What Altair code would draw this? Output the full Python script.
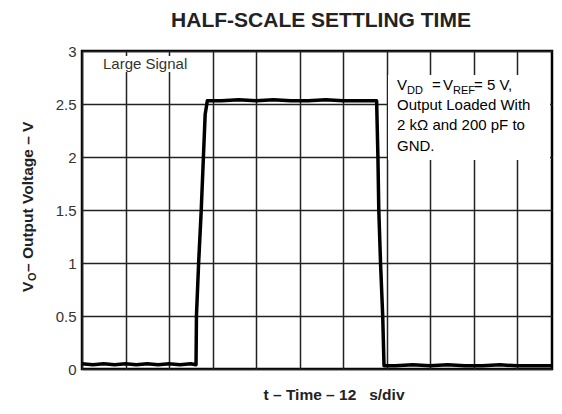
import altair as alt
import pandas as pd

# ---- data (time in divisions, voltage in V) ----
time_div = [0.00, 0.25, 0.50, 0.75, 1.00, 1.25, 1.50, 1.75, 2.00, 2.25, 2.50, 2.62,
            2.63, 2.68, 2.74, 2.79, 2.83, 2.88,
            3.20, 3.60, 4.00, 4.40, 4.80, 5.20, 5.60, 6.00, 6.40, 6.77,
            6.80, 6.82, 6.86, 6.91, 6.94,
            7.20, 7.60, 8.00, 8.40, 8.80, 9.20, 9.60, 10.00, 10.40, 10.80]
volts = [0.05, 0.04, 0.05, 0.04, 0.05, 0.04, 0.05, 0.04, 0.05, 0.04, 0.05, 0.04,
         0.50, 1.00, 1.50, 2.00, 2.40, 2.53,
         2.53, 2.54, 2.53, 2.54, 2.53, 2.53, 2.54, 2.53, 2.53, 2.53,
         2.00, 1.50, 1.00, 0.50, 0.03,
         0.03, 0.04, 0.03, 0.04, 0.03, 0.03, 0.04, 0.03, 0.03, 0.03]
x_grid = [0, 1, 2, 3, 4, 5, 6, 7, 8, 9, 10]
y_ticks = [0, 0.5, 1, 1.5, 2, 2.5, 3]

title_text = "HALF-SCALE SETTLING TIME"
x_title = "t \u2013 Time \u2013 12\u00a0\u00a0 s/div"
note_lines = ["Output Loaded With", "2 k\u03a9 and 200 pF to", "GND."]

df = pd.DataFrame({"t": time_div, "v": volts, "i": list(range(len(time_div)))})

FONT = "Liberation Sans"
W, H = 470, 318

x_enc = alt.X("t:Q", scale=alt.Scale(domain=[0, 10.8], nice=False, zero=False),
              axis=alt.Axis(values=x_grid, labels=False, ticks=False, domain=False,
                            grid=True, gridColor="#222", gridWidth=1.5, title=None))
y_enc = alt.Y("v:Q", scale=alt.Scale(domain=[0, 3], nice=False),
              axis=alt.Axis(values=y_ticks, format="~g", labelFontSize=15,
                            labelColor="#333", labelFont=FONT, ticks=False,
                            domain=False, labelPadding=6, grid=True,
                            gridColor="#222", gridWidth=1.5, title=None))

line = alt.Chart(df).mark_line(color="black", strokeWidth=3.5, strokeJoin="round").encode(
    x=x_enc, y=y_enc, order=alt.Order("i:Q"))

one = pd.DataFrame({"a": [0]})

def box(x1, x2, y1, y2):
    return alt.Chart(one).mark_rect(color="white").encode(
        x=alt.value(x1), x2=alt.value(x2), y=alt.value(y1), y2=alt.value(y2))

def txt(s, x, y, size, weight="normal", color="black", align="left", angle=0):
    kw = dict(text=s, fontSize=size, fontWeight=weight, color=color, align=align,
              baseline="alphabetic", font=FONT)
    if angle:
        kw["angle"] = angle
    return alt.Chart(one).mark_text(**kw).encode(x=alt.value(x), y=alt.value(y))

layers = [
    line,
    box(306, 468, 24, 109),
    box(17, 112, 5, 21),
    txt("Large Signal", 21, 18, 15, color="#333"),
    # VDD = VREF = 5 V,
    txt("V", 315, 39, 15),
    txt("DD", 325, 43, 11),
    txt("=", 350, 39, 15),
    txt("V", 361, 39, 15),
    txt("REF", 371, 43, 11),
    txt("= 5 V,", 392, 39, 15),
    txt(note_lines[0], 315, 59, 15),
    txt(note_lines[1], 315, 79, 15),
    txt(note_lines[2], 315, 100, 15),
    # titles
    txt(title_text, 239, -24, 21, weight="bold", color="#222", align="center"),
    txt(x_title, 252, 349, 15.5, weight="bold", color="#222", align="center"),
    txt("V", -49, 241, 15.5, weight="bold", color="#222", angle=270),
    txt("O", -46, 230, 11, weight="bold", color="#222", angle=270),
    txt("\u00a0\u2013 Output Voltage \u2013 V", -49, 221, 15.5, weight="bold",
        color="#222", angle=270),
]

chart = alt.layer(*layers).properties(
    width=W, height=H,
    autosize=alt.AutoSizeParams(type="none"),
    padding={"left": 74, "top": 43, "right": 2, "bottom": 33},
    background="white",
).configure_view(stroke="black", strokeWidth=2.5)

chart.save("out.html", embed_options={"renderer": "svg", "actions": False})
